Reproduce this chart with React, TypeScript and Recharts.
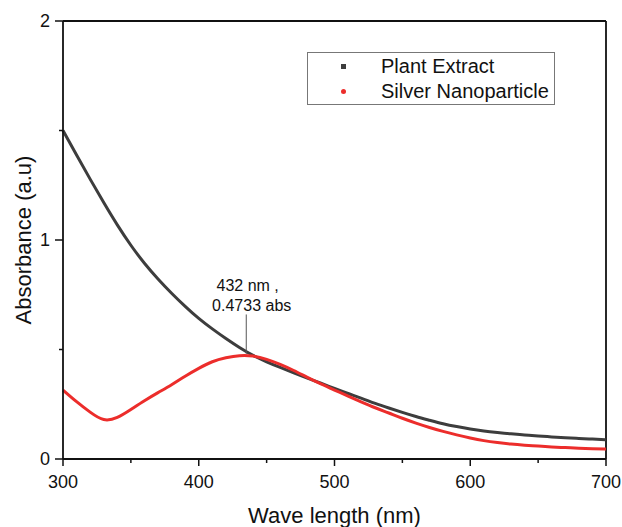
import {
  Legend,
  Line,
  LineChart,
  ReferenceDot,
  ReferenceLine,
  XAxis,
  YAxis,
} from 'recharts'

// 波长 (nm)
const WAVELENGTHS = [
  300, 310, 320, 330, 340, 350, 360, 370, 380, 390, 400, 410, 420, 430, 440,
  450, 460, 470, 480, 490, 500, 510, 520, 530, 540, 550, 560, 570, 580, 590,
  600, 610, 620, 630, 640, 650, 660, 670, 680, 690, 700,
]

// Plant Extract absorbance
const PLANT_EXTRACT = [
  1.5, 1.388, 1.278, 1.171, 1.069, 0.976, 0.894, 0.822, 0.757, 0.697, 0.642,
  0.594, 0.55, 0.509, 0.473, 0.444, 0.418, 0.393, 0.369, 0.346, 0.322, 0.299,
  0.277, 0.254, 0.233, 0.213, 0.194, 0.177, 0.161, 0.148, 0.137, 0.128, 0.121,
  0.115, 0.11, 0.105, 0.101, 0.097, 0.094, 0.091, 0.088,
]

// Silver Nanoparticle absorbance
const SILVER_NP = [
  0.315, 0.262, 0.214, 0.18, 0.19, 0.226, 0.266, 0.303, 0.339, 0.378, 0.414,
  0.444, 0.462, 0.472, 0.47, 0.455, 0.432, 0.404, 0.373, 0.343, 0.315, 0.287,
  0.26, 0.234, 0.21, 0.186, 0.164, 0.144, 0.126, 0.11, 0.096, 0.084, 0.075,
  0.068, 0.063, 0.059, 0.055, 0.052, 0.049, 0.047, 0.046,
]

const X_TICKS = [300, 350, 400, 450, 500, 550, 600, 650, 700]
const Y_TICKS = [0, 0.5, 1, 1.5, 2]

// annotation
const PEAK_LINE_X = 435
const PEAK_LINE_Y = [0.48, 0.66]
const PEAK_TEXT = ['432 nm ,', '0.4733 abs']
const PEAK_TEXT_X = [436, 439]
const PEAK_TEXT_Y = [0.792, 0.7]

const INK = '#111111'
const PLANT_COLOR = '#3d3d3d'
const SILVER_COLOR = '#ec2d2b'
const FONT = '"Liberation Sans", Arial, sans-serif'

const X_TICK_SIZE = 7
const X_TICK_MARGIN = 9
const Y_TICK_SIZE = 8
const Y_TICK_MARGIN = 5

const data = WAVELENGTHS.map((nm, i) => ({
  nm,
  plant: PLANT_EXTRACT[i],
  silver: SILVER_NP[i],
}))

// 主刻度带数字，次刻度只画短线
function XTick(props: any) {
  const { x, y, payload } = props
  const axisY = y - X_TICK_SIZE - X_TICK_MARGIN
  const major = payload.value % 100 === 0
  return (
    <g>
      <line
        x1={x}
        x2={x}
        y1={axisY}
        y2={axisY + (major ? X_TICK_SIZE : 4)}
        stroke={INK}
        strokeWidth={1.5}
      />
      {major && (
        <text x={x} y={y} dy="0.71em" textAnchor="middle" fontSize={18} fill={INK}>
          {payload.value}
        </text>
      )}
    </g>
  )
}

function YTick(props: any) {
  const { x, y, payload } = props
  const axisX = x + Y_TICK_SIZE + Y_TICK_MARGIN
  const major = Number.isInteger(payload.value)
  return (
    <g>
      <line
        x1={axisX}
        x2={axisX - (major ? Y_TICK_SIZE : 4)}
        y1={y}
        y2={y}
        stroke={INK}
        strokeWidth={1.5}
      />
      {major && (
        <text x={x} y={y} dy="0.355em" textAnchor="end" fontSize={18} fill={INK}>
          {payload.value}
        </text>
      )}
    </g>
  )
}

function LegendBox() {
  const items = [
    { label: 'Plant Extract', color: PLANT_COLOR, round: false },
    { label: 'Silver Nanoparticle', color: SILVER_COLOR, round: true },
  ]
  return (
    <div
      style={{
        border: '1px solid #777',
        background: '#fff',
        height: 53,
        boxSizing: 'border-box',
        paddingTop: 1,
      }}
    >
      {items.map((it) => (
        <div
          key={it.label}
          style={{ display: 'flex', alignItems: 'center', height: 25, fontSize: 20, color: INK }}
        >
          <span style={{ width: 73, display: 'inline-flex' }}>
            <span
              style={{
                marginLeft: 33,
                width: 5,
                height: 5,
                background: it.color,
                borderRadius: it.round ? '50%' : 0,
              }}
            />
          </span>
          <span style={{ lineHeight: '25px' }}>{it.label}</span>
        </div>
      ))}
    </div>
  )
}

export default function App() {
  return (
    <div
      style={{
        fontFamily: FONT,
        position: 'fixed',
        left: 0,
        top: 0,
        width: 622,
        height: 527,
        overflow: 'hidden',
        background: '#fff',
      }}
    >
      <LineChart
        width={622}
        height={527}
        data={data}
        margin={{ top: 21, right: 16, left: 0, bottom: 4 }}
      >
        <XAxis
          dataKey="nm"
          type="number"
          domain={[300, 700]}
          ticks={X_TICKS}
          interval={0}
          tick={<XTick />}
          tickLine={false}
          tickSize={X_TICK_SIZE}
          tickMargin={X_TICK_MARGIN}
          axisLine={{ stroke: INK, strokeWidth: 1.8 }}
          height={64}
          label={{
            value: 'Wave length (nm)',
            position: 'insideBottom',
            offset: 0,
            fontSize: 22,
            fill: INK,
          }}
        />
        <YAxis
          type="number"
          domain={[0, 2]}
          ticks={Y_TICKS}
          interval={0}
          tick={<YTick />}
          tickLine={false}
          tickSize={Y_TICK_SIZE}
          tickMargin={Y_TICK_MARGIN}
          axisLine={{ stroke: INK, strokeWidth: 1.8 }}
          width={63}
          label={{
            value: 'Absorbance (a.u)',
            angle: -90,
            position: 'insideLeft',
            offset: 23,
            fontSize: 22,
            fill: INK,
            style: { textAnchor: 'middle' },
          }}
        />
        {/* 上、右边框 */}
        <ReferenceLine y={2} stroke={INK} strokeWidth={1.8} />
        <ReferenceLine x={700} stroke={INK} strokeWidth={1.8} />

        <Legend
          layout="vertical"
          align="center"
          verticalAlign="middle"
          wrapperStyle={{ left: 307, top: 52, width: 248 }}
          content={() => <LegendBox />}
        />

        <Line
          type="natural"
          dataKey="plant"
          name="Plant Extract"
          stroke={PLANT_COLOR}
          strokeWidth={3}
          dot={false}
          isAnimationActive={false}
        />
        <Line
          type="natural"
          dataKey="silver"
          name="Silver Nanoparticle"
          stroke={SILVER_COLOR}
          strokeWidth={3}
          dot={false}
          isAnimationActive={false}
        />

        <ReferenceLine
          segment={[
            { x: PEAK_LINE_X, y: PEAK_LINE_Y[0] },
            { x: PEAK_LINE_X, y: PEAK_LINE_Y[1] },
          ]}
          stroke="#555"
          strokeWidth={1}
        />
        {PEAK_TEXT.map((t, i) => (
          <ReferenceDot
            key={t}
            x={PEAK_TEXT_X[i]}
            y={PEAK_TEXT_Y[i]}
            r={0}
            stroke="none"
            fill="none"
            label={{ value: t, position: 'center', fontSize: 16, fill: INK }}
          />
        ))}
      </LineChart>
    </div>
  )
}
